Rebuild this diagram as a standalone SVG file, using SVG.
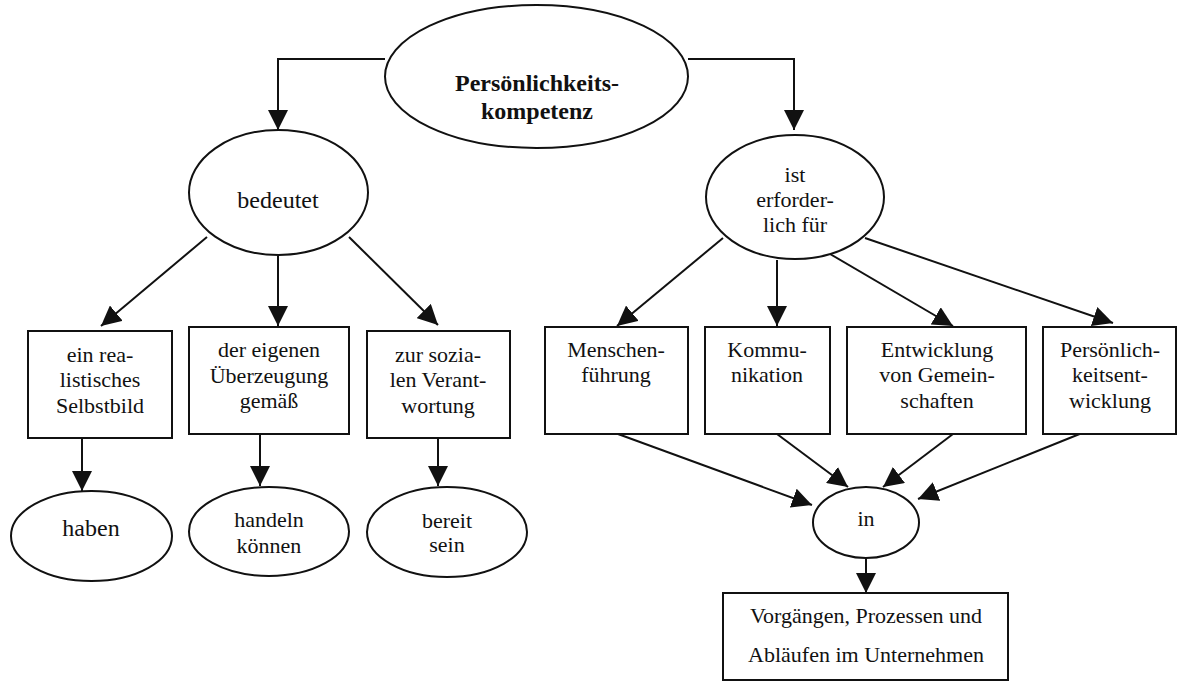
<svg xmlns="http://www.w3.org/2000/svg" width="1177" height="682" viewBox="0 0 1177 682">
<defs>
<marker id="ah" markerUnits="userSpaceOnUse" markerWidth="20" markerHeight="20" refX="20" refY="10" orient="auto">
<path d="M0,0 L20,10 L0,20 z" fill="#111"/>
</marker>
<style>
.shape{fill:#fff;stroke:#111;stroke-width:2}
.con{fill:none;stroke:#111;stroke-width:2;marker-end:url(#ah)}
text{font-family:"Liberation Serif","Times New Roman",serif;font-size:22px;fill:#111;text-anchor:middle}
.big{font-size:24px}
.bold{font-weight:bold;font-size:24px}
</style>
</defs>
<rect width="1177" height="682" fill="#fff"/>
<g id="connectors">
<polyline class="con" points="385,59 278,59 278,130"/>
<polyline class="con" points="688,59 794,59 794,130"/>
<line class="con" x1="207" y1="237" x2="101" y2="326"/>
<line class="con" x1="278" y1="256" x2="278" y2="326"/>
<line class="con" x1="349" y1="237" x2="438" y2="325"/>
<line class="con" x1="82" y1="438" x2="82" y2="491"/>
<line class="con" x1="260" y1="434" x2="260" y2="486"/>
<line class="con" x1="438" y1="438" x2="438" y2="486"/>
<line class="con" x1="723" y1="238" x2="617" y2="326"/>
<line class="con" x1="777" y1="260" x2="777" y2="326"/>
<line class="con" x1="830" y1="254" x2="953" y2="326"/>
<line class="con" x1="865" y1="238" x2="1113" y2="323"/>
<line class="con" x1="618" y1="434" x2="812" y2="505"/>
<line class="con" x1="777" y1="434" x2="848" y2="487"/>
<line class="con" x1="953" y1="434" x2="883" y2="487"/>
<line class="con" x1="1097" y1="427" x2="918" y2="499"/>
<line class="con" x1="866" y1="558" x2="866" y2="593"/>
</g>
<g id="n-top">
<ellipse class="shape" cx="536.5" cy="76.5" rx="151.5" ry="71.5"/>
<text class="bold" x="537" y="91">Persönlichkeits-</text>
<text class="bold" x="537" y="119">kompetenz</text>
</g>
<g id="n-bedeutet">
<ellipse class="shape" cx="278.5" cy="192.5" rx="89.5" ry="62.5"/>
<text class="big" x="278" y="208">bedeutet</text>
</g>
<g id="n-ist">
<ellipse class="shape" cx="795" cy="197" rx="89" ry="62"/>
<text x="795" y="182">ist</text>
<text x="795" y="207">erforder-</text>
<text x="795" y="232">lich für</text>
</g>
<g id="n-box1">
<rect class="shape" x="28" y="331" width="144" height="107"/>
<text x="100" y="362">ein rea-</text>
<text x="100" y="387">listisches</text>
<text x="100" y="413">Selbstbild</text>
</g>
<g id="n-box2">
<rect class="shape" x="189" y="327" width="160" height="107"/>
<text x="269" y="357">der eigenen</text>
<text x="269" y="383">Überzeugung</text>
<text x="269" y="408">gemäß</text>
</g>
<g id="n-box3">
<rect class="shape" x="367" y="331" width="143" height="107"/>
<text x="438" y="362">zur sozia-</text>
<text x="438" y="387">len Verant-</text>
<text x="438" y="413">wortung</text>
</g>
<g id="n-haben">
<ellipse class="shape" cx="91.5" cy="536" rx="80.5" ry="45"/>
<text class="big" x="91" y="536">haben</text>
</g>
<g id="n-handeln">
<ellipse class="shape" cx="269" cy="531.5" rx="80" ry="44.5"/>
<text x="269" y="527">handeln</text>
<text x="269" y="553">können</text>
</g>
<g id="n-bereit">
<ellipse class="shape" cx="447" cy="532" rx="80" ry="45"/>
<text x="447" y="528">bereit</text>
<text x="447" y="552">sein</text>
</g>
<g id="n-menschen">
<rect class="shape" x="545" y="327" width="143" height="107"/>
<text x="616" y="357">Menschen-</text>
<text x="616" y="382">führung</text>
</g>
<g id="n-kommu">
<rect class="shape" x="705" y="327" width="125" height="107"/>
<text x="767" y="357">Kommu-</text>
<text x="767" y="382">nikation</text>
</g>
<g id="n-entw">
<rect class="shape" x="847" y="327" width="179" height="107"/>
<text x="937" y="357">Entwicklung</text>
<text x="937" y="382">von Gemein-</text>
<text x="937" y="408">schaften</text>
</g>
<g id="n-pers">
<rect class="shape" x="1043" y="327" width="133" height="107"/>
<text x="1110" y="357">Persönlich-</text>
<text x="1110" y="382">keitsent-</text>
<text x="1110" y="408">wicklung</text>
</g>
<g id="n-in">
<ellipse class="shape" cx="866" cy="522.5" rx="53" ry="35.5"/>
<text x="866" y="526">in</text>
</g>
<g id="n-bottom">
<rect class="shape" x="723" y="593" width="285" height="87"/>
<text x="866" y="623">Vorgängen, Prozessen und</text>
<text x="866" y="662">Abläufen im Unternehmen</text>
</g>
</svg>
